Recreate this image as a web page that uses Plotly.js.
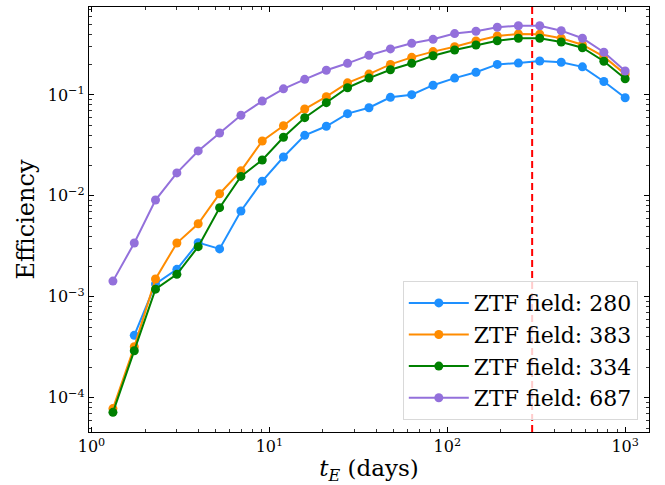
<!DOCTYPE html>
<html>
<head>
<meta charset="utf-8">
<script src="https://cdn.plot.ly/plotly-3.0.1.min.js"></script>
<style>html,body{margin:0;padding:0;background:#fff;}#chart{width:665px;height:485px;}</style>
</head>
<body>
<div id="chart"></div>
<script>
// t_E values (days)
const tE = [1.32, 1.74, 2.29, 3.02, 3.98, 5.25, 6.92, 9.12, 12.0, 15.8, 20.9, 27.5, 36.3, 47.9, 63.1, 83.2, 110, 145, 191, 251, 331, 437, 575, 759, 1000];

const eff280 = [null, 4.15e-4, 1.34e-3, 1.87e-3, 3.44e-3, 2.98e-3, 7.08e-3, 1.40e-2, 2.43e-2, 3.98e-2, 4.90e-2, 6.53e-2, 0.0748, 0.0948, 0.1007, 0.125, 0.147, 0.168, 0.201, 0.207, 0.217, 0.211, 0.190, 0.136, 0.094];
const eff383 = [7.8e-5, 3.2e-4, 1.50e-3, 3.41e-3, 5.3e-3, 1.05e-2, 1.77e-2, 3.50e-2, 4.96e-2, 7.26e-2, 0.0962, 0.132, 0.161, 0.201, 0.236, 0.269, 0.301, 0.343, 0.384, 0.403, 0.400, 0.365, 0.315, 0.240, 0.161];
const eff334 = [7.16e-5, 2.92e-4, 1.19e-3, 1.67e-3, 3.14e-3, 7.64e-3, 1.56e-2, 2.27e-2, 3.81e-2, 5.96e-2, 0.084, 0.118, 0.147, 0.178, 0.206, 0.245, 0.279, 0.313, 0.345, 0.365, 0.365, 0.335, 0.294, 0.216, 0.145];
const eff687 = [1.43e-3, 3.41e-3, 9.1e-3, 1.69e-2, 2.79e-2, 4.2e-2, 6.3e-2, 8.7e-2, 0.115, 0.143, 0.176, 0.206, 0.247, 0.286, 0.325, 0.356, 0.406, 0.428, 0.469, 0.486, 0.486, 0.434, 0.365, 0.265, 0.173];

const seriesNames = ['ZTF field: 280', 'ZTF field: 383', 'ZTF field: 334', 'ZTF field: 687'];
const seriesColors = ['#1E90FF', '#FF8C00', '#008000', '#9370DB'];
const seriesValues = [eff280, eff383, eff334, eff687];

const cutoffTE = 300;

const xTickVals = [1, 10, 100, 1000];
const xTickText = ['10<sup>0</sup>', '10<sup>1</sup>', '10<sup>2</sup>', '10<sup>3</sup>'];
const yTickVals = [1e-4, 1e-3, 1e-2, 1e-1];
const yTickText = ['10<sup>\u22124</sup>', '10<sup>\u22123</sup>', '10<sup>\u22122</sup>', '10<sup>\u22121</sup>'];

function minorVals(lo, hi) {
  const out = [];
  for (let e = lo; e <= hi; e++) {
    for (let m = 2; m <= 9; m++) out.push(m * Math.pow(10, e));
  }
  return out;
}

const FONT = 'DejaVu Serif, serif';

const traces = seriesValues.map((vals, i) => ({
  x: tE,
  y: vals,
  type: 'scatter',
  mode: 'lines+markers',
  name: seriesNames[i],
  legendgroup: 'g' + i,
  line: {color: seriesColors[i], width: 2},
  marker: {color: seriesColors[i], size: 9},
  connectgaps: false
}));

const layout = {
  width: 665,
  height: 485,
  margin: {l: 89, r: 15.5, t: 6.7, b: 53.3},
  paper_bgcolor: '#fff',
  plot_bgcolor: '#fff',
  font: {family: FONT, color: '#000', size: 16},
  showlegend: true,
  legend: {
    x: 0.98, y: 0.028, xanchor: 'right', yanchor: 'bottom',
    bgcolor: 'rgba(255,255,255,0.8)',
    bordercolor: '#d9d9d9', borderwidth: 1,
    font: {family: FONT, size: 22, color: '#000'},
    traceorder: 'grouped',
    tracegroupgap: 0,
    itemwidth: 60
  },
  xaxis: {
    type: 'log',
    range: [-0.014, 3.134],
    tickmode: 'array',
    tickvals: xTickVals,
    ticktext: xTickText,
    ticks: 'inside', ticklen: 5, tickwidth: 1, tickcolor: '#000',
    minor: {tickmode: 'array', tickvals: minorVals(0, 3), ticks: 'inside', ticklen: 3, tickwidth: 0.8, tickcolor: '#000'},
    showline: true, linecolor: '#000', linewidth: 1.2, mirror: 'allticks',
    showgrid: false, zeroline: false,
    tickfont: {family: FONT, size: 16},
    title: {text: '<i>t</i><sub><i>E</i></sub> (days)', font: {family: FONT, size: 23}, standoff: 4}
  },
  yaxis: {
    type: 'log',
    range: [-4.34, -0.128],
    tickmode: 'array',
    tickvals: yTickVals,
    ticktext: yTickText,
    ticks: 'inside', ticklen: 5, tickwidth: 1, tickcolor: '#000',
    minor: {tickmode: 'array', tickvals: minorVals(-5, -1), ticks: 'inside', ticklen: 3, tickwidth: 0.8, tickcolor: '#000'},
    showline: true, linecolor: '#000', linewidth: 1.2, mirror: 'allticks',
    showgrid: false, zeroline: false,
    tickfont: {family: FONT, size: 16},
    title: {text: 'Efficiency', font: {family: FONT, size: 24}, standoff: 6}
  },
  shapes: [{
    type: 'line', xref: 'x', yref: 'paper',
    x0: cutoffTE, x1: cutoffTE, y0: 0, y1: 1,
    line: {color: '#ff0000', width: 2, dash: '7px,4px'},
    layer: 'above'
  }]
};

Plotly.newPlot('chart', traces, layout, {staticPlot: true, displayModeBar: false});
</script>
</body>
</html>
